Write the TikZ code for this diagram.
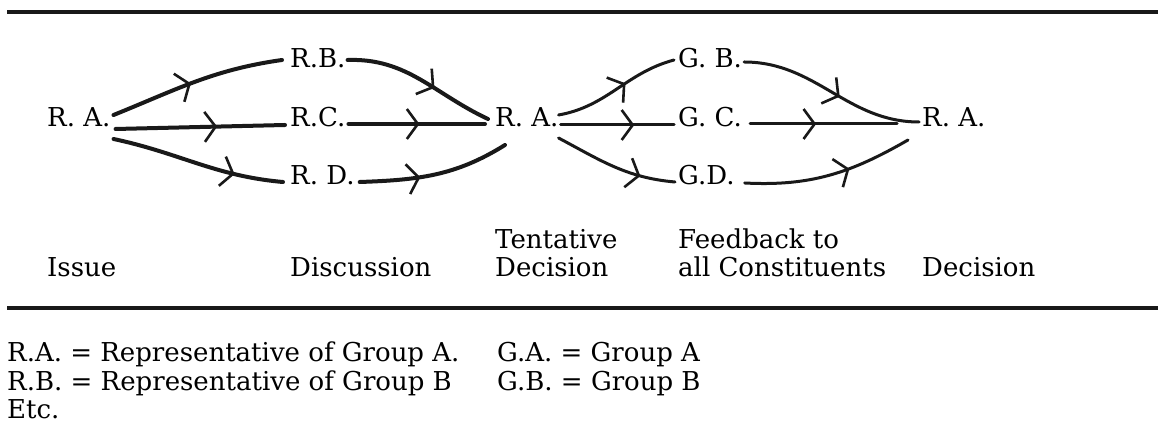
\documentclass[tikz,border=0pt]{standalone}
\usepackage{fontspec}
\setmainfont{DejaVu Serif}
\usetikzlibrary{decorations.markings,arrows.meta}
\tikzset{
  lbl/.style={anchor=base west, inner sep=0pt, font=\fontsize{26}{28.5}\selectfont, align=left},
  pen/.style={line width=4pt, line cap=round, draw=black!90},
  thinpen/.style={line width=3pt, line cap=round, draw=black!90},
  midarrow/.style={postaction={decorate}, decoration={markings,
      mark=at position #1 with {\arrow[line width=2.6pt]{Straight Barb[length=11pt,width=30pt]}}}},
  rulepen/.style={line width=3.4pt, draw=black!90},
}
\begin{document}
\begin{tikzpicture}[x=1pt,y=1pt]
\useasboundingbox (0,0) rectangle (1158,425);
% rules
\coordinate (t1) at (7,413);
\coordinate (t2) at (1158,413);
\coordinate (b1) at (7,117);
\coordinate (b2) at (1158,117);
\draw[rulepen] (t1) -- (t2);
\draw[rulepen] (b1) -- (b2);
% nodes
\node[lbl] (ra1) at (47,298) {R. A.};
\node[lbl] (rb)  at (290,357) {R.B.};
\node[lbl] (rc)  at (290,298) {R.C.};
\node[lbl] (rd)  at (290,240) {R. D.};
\node[lbl] (ra2) at (495,298) {R. A.};
\node[lbl] (gb)  at (678,357) {G. B.};
\node[lbl] (gc)  at (678,298) {G. C.};
\node[lbl] (gd)  at (678,240) {G.D.};
\node[lbl] (ra3) at (922,298) {R. A.};
% stage labels (base anchor = last line)
\node[lbl] (issue) at (47,148) {Issue};
\node[lbl] (disc)  at (290,148) {Discussion};
\node[lbl] (tent)  at (495,148) {Tentative\\Decision};
\node[lbl] (feed)  at (678,148) {Feedback to\\all Constituents};
\node[lbl] (dec)   at (922,148) {Decision};
% legend
\node[lbl] (leg1) at (7,6) {R.A. = Representative of Group A.\\R.B. = Representative of Group B\\Etc.};
\node[lbl] (leg2) at (497,34.5) {G.A. = Group A\\G.B. = Group B};
% connectors: issue -> discussion
\draw[pen, midarrow=0.47] ([shift={(3,12)}]ra1.base east) to[out=22,in=188] ([shift={(-8,8)}]rb.base west);
\draw[pen, midarrow=0.6] ([shift={(5,-2)}]ra1.base east) -- ([shift={(-5,2)}]rc.base west);
\draw[pen, midarrow=0.72] ([shift={(3,-12)}]ra1.base east) to[out=-12,in=175] ([shift={(-7,3)}]rd.base west);
% discussion -> tentative decision
\draw[pen, midarrow=0.6] ([shift={(2,8)}]rb.base east) to[out=2,in=155] ([shift={(-7,8)}]ra2.base west);
\draw[pen, midarrow=0.52] ([shift={(3,3)}]rc.base east) -- ([shift={(-10,3)}]ra2.base west);
\draw[pen, midarrow=0.4] ([shift={(5,3)}]rd.base east) to[out=2,in=212] ([shift={(10,-18)}]ra2.base west);
% tentative decision -> groups
\draw[thinpen, midarrow=0.58] ([shift={(0,12)}]ra2.base east) to[out=10,in=195] ([shift={(-4,8)}]gb.base west);
\draw[thinpen, midarrow=0.65] ([shift={(2,2)}]ra2.base east) -- ([shift={(-4,2)}]gc.base west);
\draw[thinpen, midarrow=0.72] ([shift={(0,-11)}]ra2.base east) to[out=-28,in=175] ([shift={(-3,3)}]gd.base west);
% groups -> decision
\draw[thinpen, midarrow=0.55] ([shift={(2,6)}]gb.base east) to[out=0,in=180] ([shift={(-3,5)}]ra3.base west);
\draw[thinpen, midarrow=0.45] ([shift={(8,3)}]gc.base east) -- ([shift={(-25,3)}]ra3.base west);
\draw[thinpen, midarrow=0.62] ([shift={(10,2)}]gd.base east) to[out=-3,in=210] ([shift={(-14,-13)}]ra3.base west);
\end{tikzpicture}
\end{document}
